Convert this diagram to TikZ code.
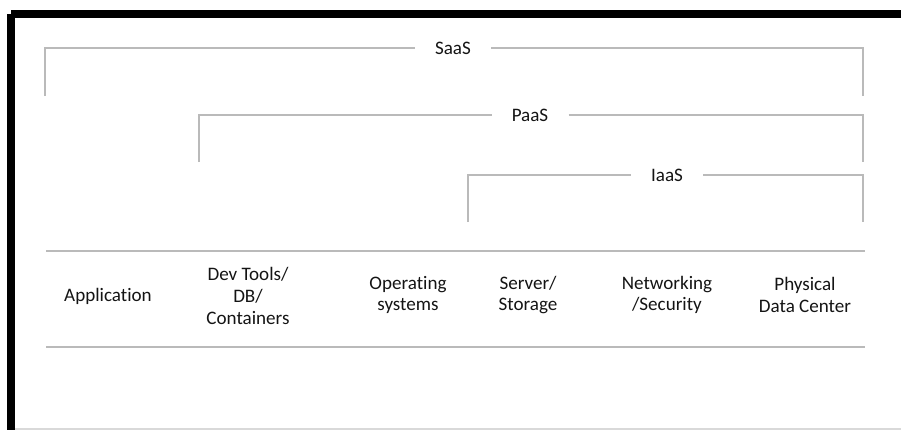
\documentclass[tikz,border=0pt]{standalone}
\usepackage{fontspec}
\setmainfont{Carlito}[Ligatures={NoCommon}]
\begin{document}
\begin{tikzpicture}[x=0.75pt,y=-0.75pt,
  rule/.style={draw=black!27,line width=1.1pt},
  frame/.style={draw=black,line width=6pt},
  tier/.style={font=\fontsize{14.3}{16.2}\selectfont,text=black!92,inner xsep=15pt,inner ysep=2pt},
  layer/.style={font=\fontsize{14.3}{16.2}\selectfont,text=black!92,align=center}]
\useasboundingbox (0,0) rectangle (901,430);
% outer frame: heavy top and left edges, faint bottom edge
\draw[frame] (11,14) -- (901,14);
\draw[frame] (11,14) -- (11,430);
\draw[draw=black!15,line width=1pt] (15,429) -- (901,429);

% tier labels
\node[tier] (saas) at (453,48) {SaaS};
\node[tier] (paas) at (530,115) {PaaS};
\node[tier] (iaas) at (667,175) {IaaS};

% bracket corners
\coordinate (saasLb) at (45,96);  \coordinate (saasLt) at (45,48);
\coordinate (saasRt) at (863,48); \coordinate (saasRb) at (863,96);
\coordinate (paasLb) at (199,162); \coordinate (paasLt) at (199,115);
\coordinate (paasRt) at (863,115); \coordinate (paasRb) at (863,162);
\coordinate (iaasLb) at (468,222); \coordinate (iaasLt) at (468,175);
\coordinate (iaasRt) at (863,175); \coordinate (iaasRb) at (863,222);

\draw[rule] (saasLb) -- (saasLt) -- (saas.west);
\draw[rule] (saas.east) -- (saasRt) -- (saasRb);
\draw[rule] (paasLb) -- (paasLt) -- (paas.west);
\draw[rule] (paas.east) -- (paasRt) -- (paasRb);
\draw[rule] (iaasLb) -- (iaasLt) -- (iaas.west);
\draw[rule] (iaas.east) -- (iaasRt) -- (iaasRb);

% table rules
\coordinate (topL) at (46,251); \coordinate (topR) at (865,251);
\coordinate (botL) at (46,347); \coordinate (botR) at (865,347);
\draw[rule] (topL) -- (topR);
\draw[rule] (botL) -- (botR);

% stack layers
\node[layer] (app) at (108,296) {Application};
\node[layer] (dev) at (248,296) {Dev Tools/\\DB/\\Containers};
\node[layer] (os)  at (408,295) {Operating\\systems};
\node[layer] (srv) at (528,295) {Server/\\Storage};
\node[layer] (net) at (667,295) {Networking\\/Security};
\node[layer] (dc)  at (805,295) {Physical\\Data Center};
\end{tikzpicture}
\end{document}
